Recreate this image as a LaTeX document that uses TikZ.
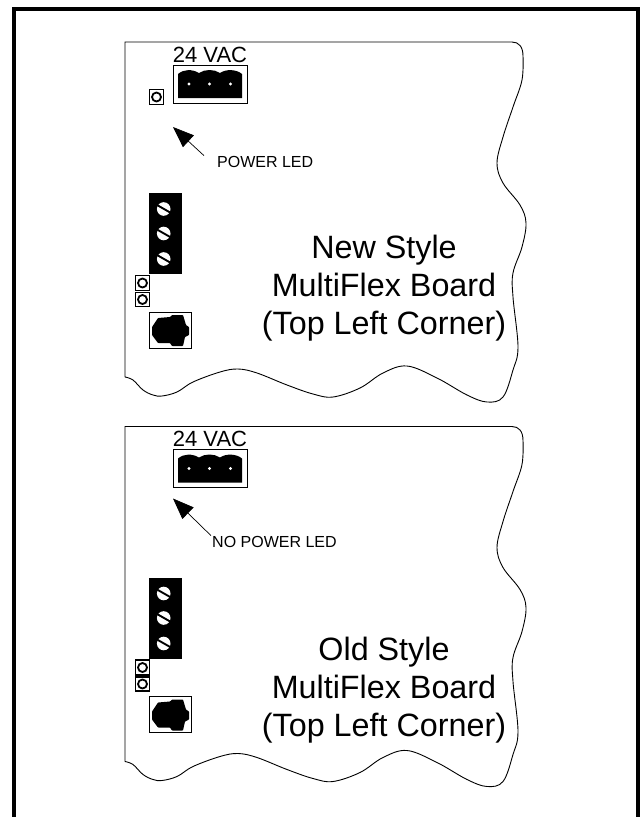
\documentclass[tikz,border=0pt]{standalone}
\usepackage{fontspec}
\setmainfont{Liberation Sans}
\usetikzlibrary{arrows.meta}
\newcommand{\boardparts}{
\draw [outline] (125,377) -- (125,42) -- (512,42) .. controls (519,42) and (523,47) .. (523,56)
  -- plot [smooth,tension=0.6] coordinates {(523,56) (522,80) (513,107) (503,137) (497,163) (503,183) (520,205) (526,223) (522,247) (513,273) (513,297) (518,347) (513,370) (503,397) (487,402) (467,395) (437,378) (407,366) (383,373) (360,388) (333,397) (313,394) (287,385) (257,373) (238,369) (220,372) (193,382) (177,392) (162,396) (153,395) (143,390) (133,380) (125,377)};
\draw [partbox] (173,65) rectangle (247,103);
\fill (178,98) -- (178,74) .. controls (184,69) and (192,69) .. (199,73) .. controls (205,69) and (214,69) .. (220,73) .. controls (226,69) and (236,69) .. (242,74) -- (242,98) -- cycle;
\fill [white] (189,84) circle (1.6);
\fill [white] (209.5,84) circle (1.6);
\fill [white] (230.5,84) circle (1.6);
\fill (149,193) rectangle (182,274);
\fill [white] (163.7,209) circle (6.8);
\fill [white] (163.7,233.5) circle (6.8);
\fill [white] (163.7,259) circle (6.8);
\draw [slot] (157,205) -- (171,213);
\draw [slot] (157,229.5) -- (171,237.5);
\draw [slot] (157,255) -- (171,263);
\draw [ledbox] (135.5,275.5) rectangle (149.5,290.5);
\draw [ledbox] (142.5,283) circle (4.5);
\draw [ledbox] (135.5,292.5) rectangle (149.5,306.5);
\draw [ledbox] (142.5,299.5) circle (4.5);
\draw [partbox] (149.5,312) rectangle (191.5,348);
\fill [rounded corners=0.6] (152,327) -- (158,318) -- (170,317) -- (172,315) -- (183,315) -- (186,325) -- (189,327) -- (189,335) -- (185,337) -- (183,346) -- (172,346) -- (170,343) -- (158,343) -- (152,335) -- cycle;
\node [vactext] (vaclabel) at (210,62) {24 VAC};
}
\begin{document}
\begin{tikzpicture}[x=1pt,y=-1pt,
  outline/.style={line width=0.9pt},
  partbox/.style={line width=1pt},
  ledbox/.style={line width=1.8pt},
  slot/.style={line width=1.9pt},
  pointer/.style={line width=0.7pt,-{Triangle[length=21pt,width=16pt]}},
  vactext/.style={anchor=base,inner sep=0pt,font=\fontsize{22}{22}\selectfont},
  ledtext/.style={anchor=base west,inner ysep=0pt,font=\fontsize{16}{16}\selectfont},
  titletext/.style={align=center,inner sep=0pt,anchor=base,font=\fontsize{32.3}{38}\selectfont}]
\useasboundingbox (0,0) rectangle (640,817);
\draw [line width=4pt,miter limit=10] (14,817) -- (14,9) -- (638,9) -- (638,817);
\boardparts
\draw [ledbox] (149.5,89.5) rectangle (163.5,104.5);
\draw [ledbox] (156.5,97) circle (4.5);
\node [ledtext,inner xsep=13pt] (powerled) at (204,167) {POWER LED};
\coordinate (powertip) at (173,127);
\draw [pointer] (powerled.north west) -- (powertip);
\node [titletext] (newtitle) at (384,334) {New Style\\MultiFlex Board\\(Top Left Corner)};
\begin{scope}[yshift=-384.5pt]
\boardparts
\end{scope}
\node [ledtext,inner xsep=1pt] (nopowerled) at (211,547) {NO POWER LED};
\coordinate (nopowertip) at (173,498.5);
\draw [pointer] (nopowerled.north west) -- (nopowertip);
\node [titletext] (oldtitle) at (384,736.5) {Old Style\\MultiFlex Board\\(Top Left Corner)};
\end{tikzpicture}
\end{document}
